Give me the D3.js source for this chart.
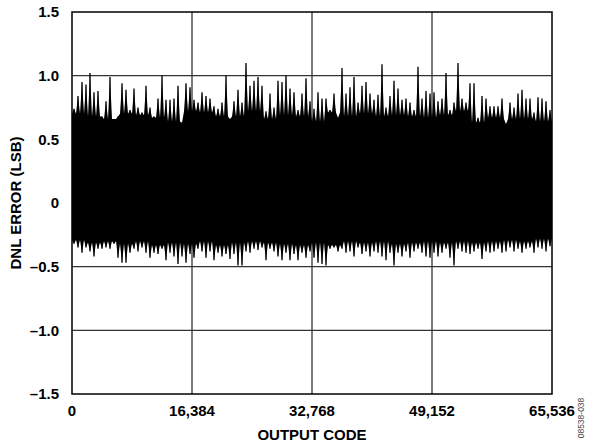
<!DOCTYPE html>
<html>
<head>
<meta charset="utf-8">
<script src="https://cdn.jsdelivr.net/npm/d3@7"></script>
<style>
  body { margin: 0; background: #fff; }
  text { font-family: "Liberation Sans", Arial, sans-serif; font-weight: bold; fill: #000; }
</style>
</head>
<body>
<div id="chart"></div>
<script>
// DNL error, max / min per bin of 65,536 / 120 codes
const binMax = [
  0.74, 0.84, 0.95, 0.93, 1.02, 0.87, 0.88, 0.68, 0.80, 0.99,
  0.66, 0.68, 0.94, 0.89, 0.73, 0.90, 0.75, 0.71, 0.92, 0.75,
  0.68, 0.82, 1.00, 0.81, 0.81, 0.82, 0.92, 0.63, 0.94, 0.91,
  0.81, 0.79, 0.87, 0.84, 0.82, 0.76, 0.74, 0.79, 1.00, 0.66,
  0.80, 0.89, 0.79, 1.10, 0.92, 0.96, 0.99, 0.92, 0.72, 0.86,
  0.75, 0.96, 0.95, 1.00, 0.90, 0.87, 0.73, 0.86, 0.98, 0.80,
  0.74, 0.87, 0.82, 0.82, 0.73, 0.86, 0.67, 1.06, 0.86, 0.91,
  0.99, 0.79, 0.92, 0.95, 0.86, 0.81, 0.85, 1.09, 0.75, 0.84,
  0.96, 0.90, 0.81, 0.82, 0.79, 0.73, 1.07, 0.82, 0.88, 0.86,
  0.87, 0.80, 0.82, 1.02, 0.73, 0.79, 1.10, 0.82, 0.79, 0.94,
  0.94, 0.67, 0.84, 0.82, 0.76, 0.76, 0.76, 0.82, 0.62, 0.79,
  0.75, 0.86, 0.89, 0.82, 0.82, 0.71, 0.83, 0.82, 0.80, 0.73
]
const binMin = [
  -0.32, -0.35, -0.39, -0.35, -0.38, -0.42, -0.36, -0.36, -0.35, -0.36,
  -0.32, -0.43, -0.47, -0.47, -0.39, -0.36, -0.38, -0.35, -0.39, -0.43,
  -0.39, -0.40, -0.36, -0.45, -0.39, -0.42, -0.48, -0.42, -0.47, -0.40,
  -0.43, -0.36, -0.38, -0.43, -0.38, -0.45, -0.39, -0.42, -0.40, -0.44,
  -0.40, -0.49, -0.49, -0.38, -0.39, -0.36, -0.37, -0.35, -0.45, -0.36,
  -0.38, -0.42, -0.45, -0.39, -0.45, -0.40, -0.45, -0.39, -0.43, -0.38,
  -0.43, -0.47, -0.48, -0.49, -0.36, -0.35, -0.38, -0.36, -0.39, -0.38,
  -0.42, -0.35, -0.40, -0.38, -0.42, -0.38, -0.39, -0.42, -0.45, -0.39,
  -0.49, -0.39, -0.42, -0.38, -0.43, -0.38, -0.36, -0.39, -0.42, -0.43,
  -0.39, -0.42, -0.39, -0.36, -0.43, -0.49, -0.36, -0.38, -0.39, -0.40,
  -0.38, -0.36, -0.44, -0.38, -0.39, -0.38, -0.36, -0.39, -0.38, -0.35,
  -0.38, -0.36, -0.39, -0.36, -0.35, -0.39, -0.35, -0.36, -0.38, -0.34
]
// level of the solid black core, per 30 segments of 4 bins
const coreTop = [
  0.70, 0.68, 0.66, 0.70, 0.69, 0.67, 0.64, 0.72, 0.71, 0.68,
  0.68, 0.72, 0.66, 0.69, 0.68, 0.64, 0.71, 0.68, 0.70, 0.68,
  0.69, 0.68, 0.67, 0.69, 0.72, 0.63, 0.67, 0.66, 0.66, 0.64
]
const coreBottom = [
  -0.29, -0.31, -0.30, -0.32, -0.30, -0.33, -0.31, -0.32, -0.30, -0.33,
  -0.31, -0.30, -0.31, -0.32, -0.33, -0.31, -0.33, -0.30, -0.31, -0.30,
  -0.32, -0.31, -0.30, -0.31, -0.30, -0.31, -0.30, -0.29, -0.30, -0.28
]
const xTicks = [0, 16384, 32768, 49152, 65536]
const yTicks = [1.5, 1.0, 0.5, 0, -0.5, -1.0, -1.5]
const yTickLabels = ["1.5", "1.0", "0.5", "0", "\u20130.5", "\u20131.0", "\u20131.5"]

const width = 590
const height = 445
const margin = {top: 12, right: 38, bottom: 51, left: 72}

const svg = d3.select("#chart").append("svg")
    .attr("width", width)
    .attr("height", height)

const x = d3.scaleLinear()
    .domain([0, 65536])
    .range([margin.left, width - margin.right])
const y = d3.scaleLinear()
    .domain([-1.5, 1.5])
    .range([height - margin.bottom, margin.top])

// Grid lines.
svg.append("g")
  .selectAll("line")
  .data(xTicks.slice(1, -1))
  .join("line")
    .attr("x1", d => x(d)).attr("x2", d => x(d))
    .attr("y1", y(1.5)).attr("y2", y(-1.5))
    .attr("stroke", "#333").attr("stroke-width", 1.3)
svg.append("g")
  .selectAll("line")
  .data(yTicks.slice(1, -1))
  .join("line")
    .attr("x1", x(0)).attr("x2", x(65536))
    .attr("y1", d => y(d)).attr("y2", d => y(d))
    .attr("stroke", "#333").attr("stroke-width", 1.3)

// Noise band: core level at bin edges, bin max / min at bin centres.
const binW = 65536 / binMax.length
const perSeg = binMax.length / coreTop.length
const band = []
binMax.forEach((v, i) => {
  const s = Math.floor(i / perSeg)
  band.push({code: i * binW, hi: coreTop[s], lo: coreBottom[s]})
  band.push({code: (i + 0.5) * binW, hi: v, lo: binMin[i]})
})
band.push({code: 65536, hi: coreTop[coreTop.length - 1], lo: coreBottom[coreBottom.length - 1]})
const area = d3.area()
    .x(d => x(d.code))
    .y0(d => y(d.lo))
    .y1(d => y(d.hi))
svg.append("path")
    .attr("d", area(band))
    .attr("fill", "#000")

// Spike tips.
svg.append("g")
  .selectAll("line")
  .data(binMax)
  .join("line")
    .attr("x1", (d, i) => x((i + 0.5) * binW))
    .attr("x2", (d, i) => x((i + 0.5) * binW))
    .attr("y1", (d, i) => y(binMin[i]))
    .attr("y2", d => y(d))
    .attr("stroke", "#000")
    .attr("stroke-width", 1.3)

// Frame.
svg.append("rect")
    .attr("x", x(0)).attr("y", y(1.5))
    .attr("width", x(65536) - x(0))
    .attr("height", y(-1.5) - y(1.5))
    .attr("fill", "none")
    .attr("stroke", "#000")
    .attr("stroke-width", 1.5)

// Tick labels.
svg.append("g")
  .selectAll("text")
  .data(yTicks)
  .join("text")
    .attr("x", x(0) - 13)
    .attr("y", d => y(d))
    .attr("dy", "0.35em")
    .attr("text-anchor", "end")
    .attr("font-size", 15)
    .text((d, i) => yTickLabels[i])
svg.append("g")
  .selectAll("text")
  .data(xTicks)
  .join("text")
    .attr("x", d => x(d))
    .attr("y", y(-1.5) + 22)
    .attr("text-anchor", "middle")
    .attr("font-size", 15)
    .text(d => d3.format(",")(d))

// Axis titles.
svg.append("text")
    .attr("x", (x(0) + x(65536)) / 2)
    .attr("y", 440)
    .attr("text-anchor", "middle")
    .attr("font-size", 15)
    .text("OUTPUT CODE")
svg.append("text")
    .attr("transform", `translate(21,${y(0)}) rotate(-90)`)
    .attr("text-anchor", "middle")
    .attr("font-size", 15)
    .text("DNL ERROR (LSB)")

// Figure number.
svg.append("text")
    .attr("transform", "translate(584,418) rotate(-90)")
    .attr("text-anchor", "middle")
    .attr("font-size", 8.5)
    .style("font-weight", "normal")
    .style("fill", "#444")
    .text("08538-038")
</script>
</body>
</html>
